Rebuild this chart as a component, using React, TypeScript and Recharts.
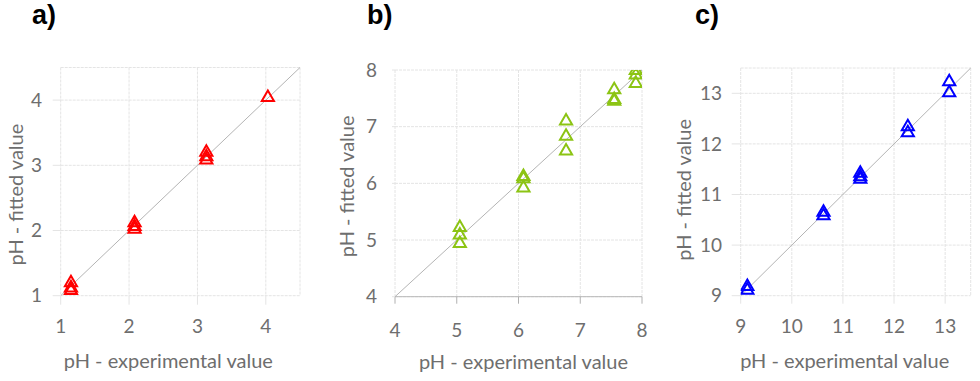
import React from "react";
import {
  ScatterChart,
  Scatter,
  XAxis,
  YAxis,
  ZAxis,
  CartesianGrid,
  ReferenceLine,
  Label,
} from "recharts";

// panel a) – acidic range
const expA = [1.15, 1.15, 1.15, 2.08, 2.08, 2.08, 3.13, 3.13, 3.13, 4.03];
const fitA = [1.2, 1.12, 1.08, 2.12, 2.06, 2.02, 3.2, 3.13, 3.08, 4.04];
const ticksA = [1, 2, 3, 4];
const domainA: [number, number] = [1, 4.5];

// panel b) – neutral range
const expB = [5.05, 5.05, 5.05, 6.08, 6.08, 6.08, 6.77, 6.77, 6.77, 7.55, 7.55, 7.55, 7.9, 7.9, 7.9];
const fitB = [5.22, 5.09, 4.94, 6.12, 6.08, 5.92, 7.1, 6.83, 6.57, 7.65, 7.48, 7.45, 7.99, 7.91, 7.76];
const ticksB = [4, 5, 6, 7, 8];
const domainB: [number, number] = [4, 8];

// panel c) – basic range
const expC = [9.13, 9.13, 10.62, 10.62, 11.34, 11.34, 11.34, 12.27, 12.27, 13.08, 13.08];
const fitC = [9.18, 9.11, 10.65, 10.58, 11.42, 11.35, 11.3, 12.34, 12.22, 13.23, 13.01];
const ticksC = [9, 10, 11, 12, 13];
const domainC: [number, number] = [9, 13.5];

const X_TITLE = "pH - experimental value";
const Y_TITLE = "pH - fitted value";

const FONT = "Lato, 'Open Sans', sans-serif";
const GRID = "#e4e4e4";
const TEXT = "#6e6e6e";

const zip = (xs: number[], ys: number[]) => xs.map((x, i) => ({ x, y: ys[i] }));

const xTitle = (dx: number) => (props: any) => {
  const vb = props.viewBox;
  return (
    <text
      x={vb.x + vb.width / 2 + dx}
      y={vb.y + 72}
      textAnchor="middle"
      fill={TEXT}
      fontSize={20}
      fontFamily={FONT}
    >
      {X_TITLE}
    </text>
  );
};

const yTitle = (bx: number, dy: number) => (props: any) => {
  const vb = props.viewBox;
  const cx = vb.x + bx;
  const cy = vb.y + vb.height / 2 + dy;
  return (
    <text
      x={cx}
      y={cy}
      transform={`rotate(-90 ${cx} ${cy})`}
      textAnchor="middle"
      fill={TEXT}
      fontSize={20}
      fontFamily={FONT}
    >
      {Y_TITLE}
    </text>
  );
};

interface PanelProps {
  letter: string;
  left: number;
  letterX: number;
  data: { x: number; y: number }[];
  domain: [number, number];
  ticks: number[];
  color: string;
  margin: { top: number; right: number; bottom: number; left: number };
  yWidth: number;
  xTick: [number, number];
  yTick: [number, number];
  xAxisLine?: boolean;
  xTitleDx: number;
  yTitleX: number;
  yTitleDy: number;
}

function Panel(p: PanelProps) {
  const seg = [
    { x: p.domain[0], y: p.domain[0] },
    { x: p.domain[1], y: p.domain[1] },
  ];
  const tick = { fill: TEXT, fontSize: 19, fontFamily: FONT };
  return (
    <div style={{ position: "absolute", left: p.left, top: 0, width: 330, height: 381 }}>
      <div
        style={{
          position: "absolute",
          left: p.letterX,
          top: 0,
          fontFamily: "'Liberation Sans', Arial, sans-serif",
          fontWeight: 700,
          fontSize: 27,
          color: "#000",
        }}
      >
        {p.letter}
      </div>
      <ScatterChart width={330} height={381} margin={p.margin}>
        <CartesianGrid stroke={GRID} strokeDasharray="3 1" />
        <XAxis
          type="number"
          dataKey="x"
          domain={p.domain}
          ticks={p.ticks}
          allowDataOverflow
          height={80}
          tick={tick}
          tickSize={p.xTick[0]}
          tickMargin={p.xTick[1]}
          tickLine={{ stroke: p.xAxisLine ? "#b0b0b0" : GRID }}
          axisLine={p.xAxisLine ? { stroke: "#b8b8b8" } : false}
        >
          <Label content={xTitle(p.xTitleDx)} />
        </XAxis>
        <YAxis
          type="number"
          dataKey="y"
          domain={p.domain}
          ticks={p.ticks}
          allowDataOverflow
          width={p.yWidth}
          tick={tick}
          tickSize={p.yTick[0]}
          tickMargin={p.yTick[1]}
          tickLine={{ stroke: GRID }}
          axisLine={false}
        >
          <Label content={yTitle(p.yTitleX, p.yTitleDy)} />
        </YAxis>
        <ZAxis type="number" range={[26, 26]} />
        <ReferenceLine segment={seg} stroke="#b4b4b4" strokeWidth={1} />
        <Scatter
          data={p.data}
          shape="triangle"
          fill="none"
          stroke={p.color}
          strokeWidth={2}
          isAnimationActive={false}
        />
      </ScatterChart>
    </div>
  );
}

export default function App() {
  return (
    <div
      style={{
        position: "absolute",
        left: 0,
        top: 0,
        width: 980,
        height: 381,
        background: "#fff",
        overflow: "hidden",
      }}
    >
      <Panel
        letter="a)"
        left={0}
        letterX={32}
        data={zip(expA, fitA)}
        domain={domainA}
        ticks={ticksA}
        color="#ff0000"
        margin={{ top: 67.5, right: 30, bottom: 5.3, left: 0 }}
        yWidth={60.7}
        xTick={[9, 15]}
        yTick={[8, 10.7]}
        xTitleDx={-12}
        yTitleX={23}
        yTitleDy={13}
      />
      <Panel
        letter="b)"
        left={330}
        letterX={37}
        data={zip(expB, fitB)}
        domain={domainB}
        ticks={ticksB}
        color="#8cc414"
        margin={{ top: 70, right: 18, bottom: 4.3, left: 0 }}
        yWidth={65}
        xTick={[7, 19.7]}
        yTick={[3, 15]}
        xAxisLine
        xTitleDx={5}
        yTitleX={24}
        yTitleDy={3}
      />
      <Panel
        letter="c)"
        left={650}
        letterX={45}
        data={zip(expC, fitC)}
        domain={domainC}
        ticks={ticksC}
        color="#0000ff"
        margin={{ top: 68, right: 9.3, bottom: 5.3, left: 0 }}
        yWidth={90.7}
        xTick={[8, 16.3]}
        yTick={[9, 9.7]}
        xTitleDx={-11}
        yTitleX={41}
        yTitleDy={8}
      />
    </div>
  );
}
